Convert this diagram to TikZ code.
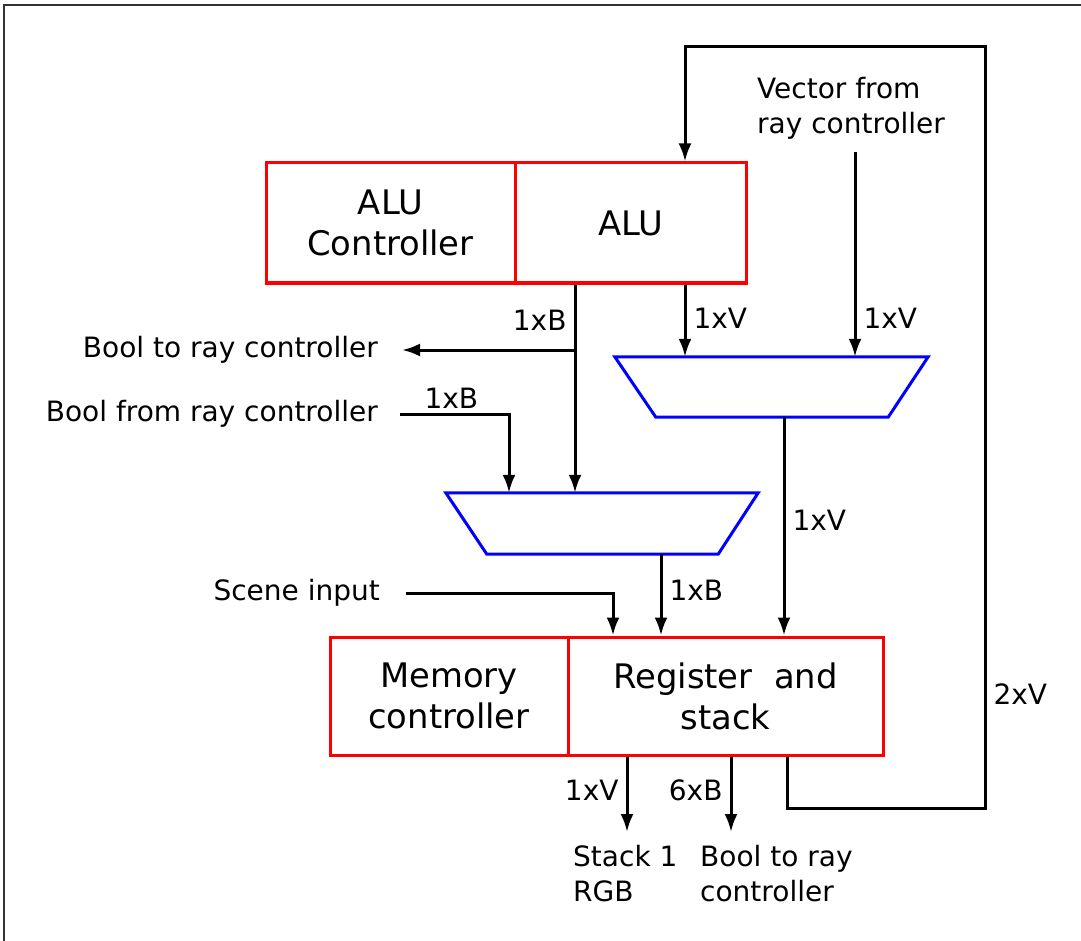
\documentclass[tikz,border=0pt]{standalone}
\usepackage{fontspec}
\setmainfont{DejaVu Sans}
\usetikzlibrary{arrows.meta}

\begin{document}
\begin{tikzpicture}[
    x=1pt, y=-1pt,
    >={Latex[length=18pt,width=13pt]},
    block/.style={
        draw=red,
        line width=3pt,
        align=center,
        inner sep=0pt,
        font=\fontsize{33.8}{41}\selectfont
    },
    muxbox/.style={minimum width=313pt, minimum height=60pt, inner sep=0pt},
    mux/.style={draw=blue, line width=3pt},
    lbl/.style={align=left, inner sep=0pt, font=\fontsize{28}{35}\selectfont},
    bus/.style={inner sep=7pt, font=\fontsize{28}{35}\selectfont},
    wire/.style={->, line width=3pt}
]
\useasboundingbox (0,0) rectangle (1081,941);
\draw[black!80, line width=1.5pt] (4,941) -- (4,5) -- (1081,5);

% blocks
\node[block, minimum width=249pt, minimum height=120pt] (aluctl) at (390.5,223) {ALU\\Controller};
\node[block, minimum width=231pt, minimum height=120pt] (alu) at (630.5,223) {ALU};
\node[block, minimum width=238pt, minimum height=118pt] (memctl) at (449,696) {Memory\\controller};
\node[block, minimum width=315pt, minimum height=118pt] (reg) at (725.5,696) {Register\ \ and\\stack};

% multiplexers
\node[muxbox] (mux1) at (771.5,387) {};
\node[muxbox, minimum width=312pt, minimum height=61pt] (mux2) at (602,523.5) {};
\draw[mux] (mux1.north west) -- (mux1.north east) -- ([xshift=-40pt]mux1.south east)
    -- ([xshift=41pt]mux1.south west) -- cycle;
\draw[mux] (mux2.north west) -- (mux2.north east) -- ([xshift=-40pt]mux2.south east)
    -- ([xshift=41pt]mux2.south west) -- cycle;

% texts
\node[lbl, anchor=west] (vecin) at (757,108) {Vector from\\ray controller};
\node[lbl, anchor=east] (boolout) at (378,350) {Bool to ray controller};
\node[lbl, anchor=east] (boolin) at (378,414) {Bool from ray controller};
\node[lbl, anchor=east] (scene) at (380,593) {Scene input};
\node[lbl, anchor=north west] (stack) at (573,845) {Stack 1\\RGB};
\node[lbl, anchor=north west] (boolray) at (700,845) {Bool to ray\\controller};

% x positions of the wires
\coordinate (vx) at (685,0);
\coordinate (vtop) at (855,152);
\coordinate (bx) at (575,0);
\coordinate (binx) at (509,0);
\coordinate (scx) at (613,0);
\coordinate (m2x) at (661,0);
\coordinate (m1x) at (784,0);
\coordinate (o1x) at (627,0);
\coordinate (o2x) at (731,0);
\coordinate (fbx) at (787,0);
\coordinate (fbA) at (985,808);
\coordinate (fbB) at (985,47);

% connections
\draw[wire] (reg.south -| fbx) |- (fbA) -- node[bus, pos=0.15, right] {2xV} (fbB) -| (alu.north -| vx);
\draw[wire] (alu.south -| vx) -- node[bus, pos=0.47, right] {1xV} (mux1.north -| vx);
\draw[wire] (vtop) -- node[bus, pos=0.81, right] {1xV} (mux1.north -| vtop);
\draw[wire] (alu.south -| bx) -- node[bus, pos=0.17, left] {1xB} (mux2.north -| bx);
\draw[wire, shorten >=24pt] (bx |- boolout) -- (boolout.east);
\draw[wire, shorten <=22pt] (boolin.east) -| node[bus, pos=0.28, above, inner sep=4pt] {1xB} (mux2.north -| binx);
\draw[wire] (mux1.south -| m1x) -- node[bus, pos=0.47, right] {1xV} (reg.north -| m1x);
\draw[wire] (mux2.south -| m2x) -- node[bus, pos=0.44, right] {1xB} (reg.north -| m2x);
\draw[wire, shorten <=26pt] (scene.east) -| (reg.north -| scx);
\draw[wire, shorten >=13pt] (reg.south -| o1x) -- node[bus, pos=0.38, left] {1xV} (stack.north -| o1x);
\draw[wire, shorten >=13pt] (reg.south -| o2x) -- node[bus, pos=0.38, left] {6xB} (boolray.north -| o2x);
\end{tikzpicture}
\end{document}
